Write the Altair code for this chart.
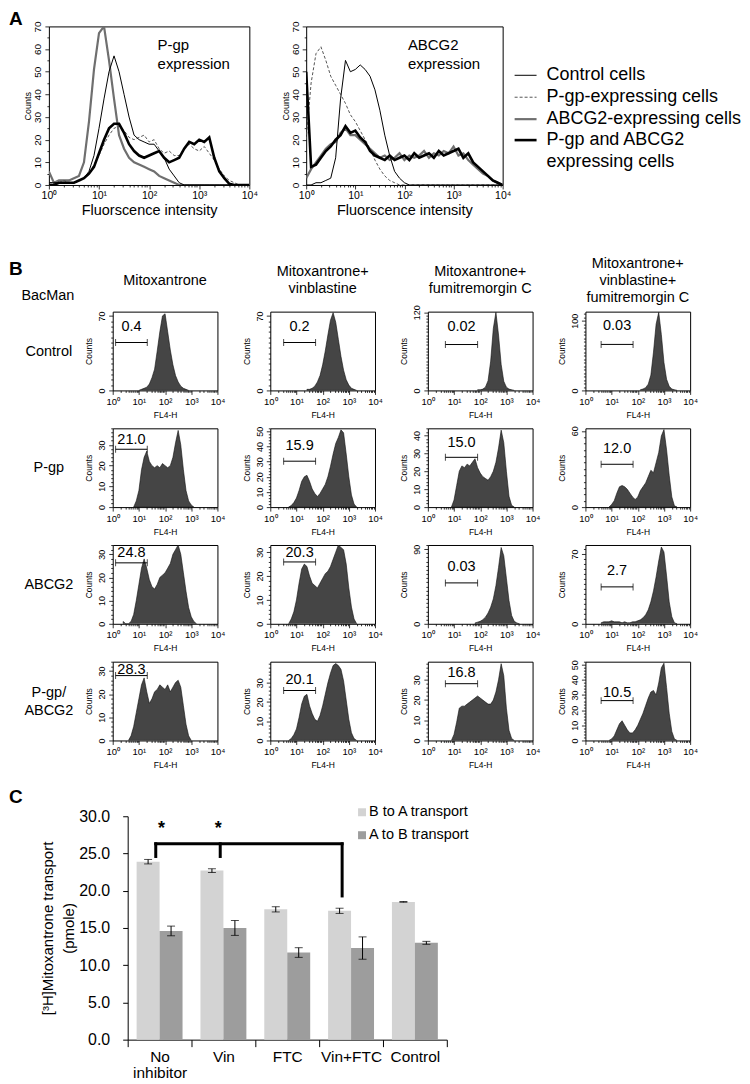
import math
import altair as alt
import pandas as pd

FONT = "Liberation Sans"

# ---------------- Panel A data (x = log10 fluorescence, step 0.1 decade) ----------------
A_LOGX = [round(i * 0.1, 1) for i in range(41)]
A_SERIES = ["Control cells", "P-gp-expressing cells", "ABCG2-expressing cells",
            "P-gp and ABCG2 expressing cells"]
A_LEGEND_LINES = [["Control cells"], ["P-gp-expressing cells"], ["ABCG2-expressing cells"],
                  ["P-gp and ABCG2", "expressing cells"]]

# left: P-gp expression
A_PGP_CONTROL = [1, 1, 1, 1, 1, 1, 2, 3, 6, 13,
                 25, 38, 50, 57, 50, 40, 30, 22, 20, 19,
                 18, 18, 15, 12, 7, 4, 1, 0, 0, 0,
                 0, 0, 0, 0, 0, 0, 0, 0, 0, 0,
                 0]
A_PGP_PGP = [1, 1, 1, 2, 1, 1, 2, 3, 5, 9,
             13, 18, 22, 25, 26, 24, 21, 20, 21, 22,
             19, 20, 16, 14, 15, 13, 13, 16, 18, 16,
             15, 17, 14, 11, 7, 4, 2, 1, 0, 0,
             0]
A_PGP_ABCG2 = [6, 1, 2, 2, 2, 3, 4, 10, 28, 51,
               67, 70, 55, 38, 22, 16, 12, 10, 9, 8,
               7, 6, 4, 3, 2, 1, 0, 0, 0, 0,
               0, 0, 0, 0, 0, 0, 0, 0, 0, 0,
               0]
A_PGP_BOTH = [0, 0, 1, 1, 1, 1, 2, 3, 5, 8,
              14, 20, 25, 27, 27, 23, 18, 15, 13, 12,
              13, 14, 15, 12, 10, 11, 12, 16, 19, 18,
              20, 19, 21, 12, 6, 3, 0.5, 0, 0, 0,
              0]
# right: ABCG2 expression
A_ABC_CONTROL = [0, 0, 1, 1, 2, 3, 12, 38, 55, 50,
                 51, 53, 51, 48, 42, 33, 22, 13, 6, 3,
                 1, 0, 0, 0, 0, 0, 0, 0, 0, 0,
                 0, 0, 0, 0, 0, 0, 0, 0, 0, 0,
                 0]
A_ABC_PGP = [20, 45, 58, 61, 55, 48, 44, 40, 36, 31,
             28, 24, 20, 16, 11, 7, 4, 2, 1, 0,
             0, 0, 0, 0, 0, 0, 0, 0, 0, 0,
             0, 0, 0, 0, 0, 0, 0, 0, 0, 0,
             0]
A_ABC_ABCG2 = [3, 7, 10, 13, 16, 18, 19, 23, 25, 22,
               22, 20, 18, 16, 14, 12, 13, 11, 12, 14,
               11, 13, 12, 13, 15, 12, 14, 13, 15, 14,
               17, 13, 14, 11, 9, 7, 5, 4, 2, 1,
               0]
A_ABC_BOTH = [50, 8, 9, 12, 15, 17, 20, 22, 26, 23,
              24, 21, 19, 15, 13, 12, 11, 13, 11, 12,
              13, 11, 14, 12, 13, 14, 12, 15, 13, 14,
              15, 16, 12, 14, 10, 8, 6, 4, 2, 1,
              0]

A_COLORS = ["#000000", "#555555", "#6f6f6f", "#000000"]
A_WIDTHS = [1.0, 1.0, 2.2, 2.6]
A_DASHES = [None, [3, 2], None, None]
A_DRAW_ORDER = [2, 1, 3, 0]

# ---------------- Panel B data ----------------
B_ROW_LABELS = [["Control"], ["P-gp"], ["ABCG2"], ["P-gp/", "ABCG2"]]
B_HEADERS = [["Mitoxantrone"], ["Mitoxantrone+", "vinblastine"],
             ["Mitoxantrone+", "fumitremorgin C"],
             ["Mitoxantrone+", "vinblastine+", "fumitremorgin C"]]
HIST_START = [[1.0, 1.4, 1.9, 2.1],
              [0.8, 0.7, 0.9, 0.9],
              [0.4, 0.7, 1.8, 0.6],
              [0.6, 0.7, 0.9, 0.9]]
HIST_VALS = [
    [[0, 1, 2, 3, 6, 12, 20, 37, 55, 70, 72, 55, 38, 24, 14, 8, 4, 2, 1, 0],
     [1, 1, 2, 4, 8, 14, 24, 37, 52, 66, 73, 64, 48, 32, 19, 10, 5, 2, 1, 0],
     [1, 1, 2, 5, 15, 45, 95, 120, 85, 40, 14, 5, 2, 1, 0],
     [1, 2, 4, 9, 22, 55, 95, 112, 80, 40, 16, 6, 2, 1, 0]],
    [[0, 3, 8, 18, 24, 27, 22, 20, 19, 20, 19, 21, 20, 19, 20, 24, 31, 37, 30, 18, 8, 3, 1, 0],
     [0, 1, 3, 6, 11, 17, 20, 21, 17, 12, 9, 7, 9, 12, 15, 20, 27, 35, 42, 46, 51, 49, 35, 20, 8, 2, 0],
     [0, 4, 12, 20, 23, 22, 24, 23, 25, 27, 22, 19, 17, 16, 15, 17, 20, 25, 33, 43, 36, 20, 6, 1, 0],
     [0, 2, 5, 11, 16, 17, 16, 14, 11, 8, 6, 8, 13, 16, 19, 24, 29, 27, 35, 43, 56, 61, 45, 25, 8, 1, 0]],
    [[1, 0, 0, 1, 4, 10, 17, 24, 28, 24, 19, 16, 15, 17, 20, 21, 22, 24, 26, 30, 32, 34, 30, 22, 14, 7, 3, 1, 0],
     [0, 2, 5, 10, 17, 23, 25, 24, 20, 17, 16, 15, 17, 19, 21, 22, 24, 27, 30, 33, 32, 31, 25, 15, 7, 2, 0],
     [1, 2, 3, 5, 8, 13, 20, 30, 46, 68, 92, 82, 55, 28, 10, 3, 1, 0],
     [1, 2, 2, 2, 3, 2, 2, 2, 1, 2, 1, 1, 2, 2, 3, 4, 6, 9, 14, 22, 33, 47, 63, 77, 72, 48, 22, 7, 1, 0]],
    [[0, 2, 6, 12, 18, 24, 27, 21, 16, 18, 21, 22, 24, 23, 22, 24, 21, 23, 25, 26, 23, 15, 7, 2, 0],
     [0, 1, 3, 6, 12, 19, 23, 24, 18, 14, 11, 10, 13, 18, 24, 30, 35, 39, 40, 39, 37, 31, 21, 11, 4, 1, 0],
     [0, 3, 9, 16, 17, 17, 18, 19, 20, 21, 22, 21, 20, 19, 18, 18, 20, 24, 30, 38, 32, 16, 5, 1, 0],
     [0, 1, 3, 7, 11, 13, 10, 7, 5, 5, 7, 10, 14, 18, 23, 28, 32, 33, 30, 38, 48, 51, 35, 18, 6, 1, 0]],
]
Y_MAX = [[74, 74, 121, 113], [38, 52, 44, 62], [34, 33, 95, 79], [34, 41, 39, 52]]
Y_MAJOR = [[[0, 70], [0, 70], [0, 120], [0, 100]],
           [[0, 10, 20, 30], [0, 10, 20, 30, 40, 50], [0, 10, 20, 30, 40], [0, 60]],
           [[0, 10, 20, 30], [0, 10, 20, 30], [0, 90], [0, 70]],
           [[0, 10, 20, 30], [0, 10, 20, 30], [0, 10, 20, 30], [0, 10, 20, 30, 40, 50]]]
GATE_TEXT = [["0.4", "0.2", "0.02", "0.03"], ["21.0", "15.9", "15.0", "12.0"],
             ["24.8", "20.3", "0.03", "2.7"], ["28.3", "20.1", "16.8", "10.5"]]
GATE_LO = [0.11, 0.51, 0.67, 0.60]
GATE_HI = [1.32, 1.73, 1.90, 1.82]
GATE_Y = [[45, 45, 70.5, 66], [27.9, 30.3, 27.8, 33.7], [26.3, 25.9, 49.3, 37], [28, 26, 28.1, 26.3]]
LABEL_Y = [[60, 60, 98, 92], [32.2, 40.2, 35.6, 45.5], [30.6, 29.7, 68.5, 53], [30.6, 31.7, 33.6, 31.6]]

# ---------------- Panel C data ----------------
C_CATS = ["No inhibitor", "Vin", "FTC", "Vin+FTC", "Control"]
C_SERIES = ["B to A transport", "A to B transport"]
C_BA = [23.9, 22.7, 17.5, 17.3, 18.5]
C_BA_ERR = [0.3, 0.25, 0.35, 0.35, 0.05]
C_AB = [14.6, 15.0, 11.7, 12.3, 13.0]
C_AB_ERR = [0.65, 1.0, 0.65, 1.5, 0.2]
C_COLORS = ["#d3d3d3", "#9d9d9d"]
BRACKET_X = [0.44, 1.45, 3.36]      # in category units (0..5)
BRACKET_LOW = [24.6, 24.6, 19.3]
BRACKET_TOP = 26.3
STAR_X = [0.53, 1.42]
STAR_Y = 28.3

# ---------------- helpers ----------------
MINOR = [k + math.log10(m) for k in range(4) for m in range(2, 10)]
X_TICKS = [0, 1, 2, 3, 4] + MINOR
SUP_EXPR = ("datum.value == floor(datum.value) ? '10' + "
            "['\u2070','\u00b9','\u00b2','\u00b3','\u2074'][datum.value] : ''")


def cond(test, major, minor):
    return {"condition": {"test": test, "value": major}, "value": minor}


def label(text, x, y, size=14.5, align="center", baseline="middle", weight="normal"):
    return alt.Chart(pd.DataFrame({"t": [text]})).mark_text(
        align=align, baseline=baseline, fontSize=size, fontWeight=weight,
        font=FONT, color="black").encode(x=alt.value(x), y=alt.value(y), text="t:N")


def anchor(x, y):
    # invisible point used only to fix the layout bounds of a block
    return alt.Chart(pd.DataFrame({"s": [0]})).mark_point(size=1, opacity=0).encode(
        x=alt.value(x), y=alt.value(y))


def spacer(w, h):
    return anchor(0, 0).properties(width=w, height=h)


FRAME = alt.ViewBackground(stroke="black", strokeWidth=1)


def log_x_axis(lsize, title, tsize, ty, major, minor, pad):
    return alt.Axis(values=X_TICKS, labelExpr=SUP_EXPR, labelFontSize=lsize, labelPadding=pad,
                    labelFlush=False, labelOverlap=False, labelBaseline="top",
                    tickSize=cond("datum.value == floor(datum.value)", major, minor),
                    tickWidth=0.8, domain=False, grid=False, title=title, titleFontSize=tsize,
                    titleY=ty, titleBaseline="middle", titleFontWeight="normal")


def count_y_axis(vals, majors, lsize, tsize, tx, major, minor, pad):
    ms = "[" + ",".join(str(m) for m in majors) + "]"
    test = "indexof(" + ms + ", datum.value) >= 0"
    return alt.Axis(values=vals, labelExpr=test + " ? datum.label : ''", labelAngle=270,
                    labelAlign="center", labelBaseline="bottom", labelFontSize=lsize,
                    labelPadding=pad, labelOverlap=False, labelFlush=False,
                    tickSize=cond(test, major, minor), tickWidth=0.8, domain=False, grid=False,
                    title="Counts", titleFontSize=tsize, titleX=tx, titleBaseline="middle",
                    titleFontWeight="normal")


# ---------------- Panel A ----------------
def panel_a(series_vals, tag, tag_x, width, extras):
    xsc = alt.Scale(domain=[0, 4], nice=False, zero=False)
    ysc = alt.Scale(domain=[0, 70], nice=False)
    xax = log_x_axis(10.5, "Fluorscence intensity", 14.5, 26, 4, 2, 2)
    yax = count_y_axis(list(range(0, 71, 5)), list(range(0, 71, 10)), 10, 9, -21, 4, 2, 2)
    layers = []
    for i in A_DRAW_ORDER:
        df = pd.DataFrame({"x": A_LOGX, "y": series_vals[i]})
        kw = dict(color=A_COLORS[i], strokeWidth=A_WIDTHS[i], clip=True)
        if A_DASHES[i]:
            kw["strokeDash"] = A_DASHES[i]
        layers.append(alt.Chart(df).mark_line(**kw).encode(
            x=alt.X("x:Q", scale=xsc, axis=xax), y=alt.Y("y:Q", scale=ysc, axis=yax)))
    layers.append(label(tag[0], tag_x, 19, 15, align="left"))
    layers.append(label(tag[1], tag_x, 38, 15, align="left"))
    layers += extras
    return alt.layer(*layers).properties(width=width, height=159, view=FRAME)


a_left = panel_a([A_PGP_CONTROL, A_PGP_PGP, A_PGP_ABCG2, A_PGP_BOTH], ["P-gp", "expression"], 109, 201,
                 [label("A", -40, -16, 19, align="left", baseline="top", weight="bold"),
                  anchor(0, 159 + 45)])

legend_layers = []
leg_y = [49, 71, 93, 114]
for i in range(4):
    kw = dict(color=A_COLORS[i], strokeWidth=A_WIDTHS[i])
    if A_DASHES[i]:
        kw["strokeDash"] = A_DASHES[i]
    legend_layers.append(alt.Chart(pd.DataFrame({"s": [A_SERIES[i]]})).mark_rule(**kw).encode(
        x=alt.value(209), x2=alt.value(231), y=alt.value(leg_y[i])))
    for j, line in enumerate(A_LEGEND_LINES[i]):
        legend_layers.append(label(line, 241, leg_y[i] + 22 * j, 18, align="left"))

a_right = panel_a([A_ABC_CONTROL, A_ABC_PGP, A_ABC_ABCG2, A_ABC_BOTH], ["ABCG2", "expression"], 102, 197,
                  legend_layers)

block_a = alt.hconcat(spacer(40, 159), a_left, spacer(57, 159), a_right, spacing=0, bounds="flush")


# ---------------- Panel B ----------------
def hist_panel(r, c):
    start = HIST_START[r][c]
    vals = HIST_VALS[r][c]
    xs = [round(start + 0.1 * i, 2) for i in range(len(vals))]
    ymax = Y_MAX[r][c]
    step = 2 if ymax <= 60 else 5
    yvals = list(range(0, int(ymax) + 1, step))
    xsc = alt.Scale(domain=[0, 4], nice=False, zero=False)
    ysc = alt.Scale(domain=[0, ymax], nice=False)
    xax = log_x_axis(9.5, "FL4-H", 8.5, 24, 4, 2, 2)
    yax = count_y_axis(yvals, Y_MAJOR[r][c], 9, 8.5, -24, 4, 2, 2)
    X = lambda f: alt.X(f, scale=xsc, axis=xax)
    Y = lambda f: alt.Y(f, scale=ysc, axis=yax)
    area = alt.Chart(pd.DataFrame({"x": xs, "y": vals})).mark_area(
        fill="#454545", stroke="#111111", strokeWidth=0.6, clip=True).encode(x=X("x:Q"), y=Y("y:Q"))
    gdf = pd.DataFrame({"x1": [GATE_LO[c]], "x2": [GATE_HI[c]], "y": [GATE_Y[r][c]],
                        "ly": [LABEL_Y[r][c]], "xm": [(GATE_LO[c] + GATE_HI[c]) / 2],
                        "t": [GATE_TEXT[r][c]]})
    gate = alt.Chart(gdf).mark_rule(color="black", strokeWidth=1).encode(
        x=X("x1:Q"), x2="x2:Q", y=Y("y:Q"))
    caps = alt.Chart(gdf).transform_fold(["x1", "x2"], as_=["k", "xe"]).mark_tick(
        orient="vertical", size=7, thickness=1, color="black").encode(x=X("xe:Q"), y=Y("y:Q"))
    txt = alt.Chart(gdf).mark_text(fontSize=14.5, font=FONT, color="black").encode(
        x=X("xm:Q"), y=Y("ly:Q"), text="t:N")
    layers = [area, gate, caps, txt]
    if r == 0:
        hl = B_HEADERS[c]
        n = len(hl)
        for i, line in enumerate(hl):
            layers.append(label(line, 52.5, -31 + (i - (n - 1) / 2) * 17, 14.5))
    if c == 0:
        rl = B_ROW_LABELS[r]
        n = len(rl)
        for i, line in enumerate(rl):
            layers.append(label(line, -64, 40 + (i - (n - 1) / 2) * 18, 14.5))
        if r == 0:
            layers.append(label("BacMan", -65, -16, 14.5))
            layers.append(label("B", -104, -52, 19, align="left", baseline="top", weight="bold"))
            layers.append(anchor(0, -80))
        if r == 3:
            layers.append(anchor(0, 79 + 35))
    return alt.layer(*layers).properties(width=105, height=79, view=FRAME)


b_items = []
for r in range(4):
    b_items.append(spacer(51, 79))
    for c in range(4):
        b_items.append(hist_panel(r, c))
block_b = alt.concat(*b_items, columns=5, spacing={"row": 38, "column": 53}, bounds="flush")

# ---------------- Panel C ----------------
cdf = pd.DataFrame({
    "cat": C_CATS + C_CATS,
    "series": [C_SERIES[0]] * 5 + [C_SERIES[1]] * 5,
    "value": C_BA + C_AB,
    "err": C_BA_ERR + C_AB_ERR,
})
c_xax = alt.Axis(labelFontSize=15.5, tickBand="extent", tickSize=7, labelPadding=3, labelAngle=0,
                 labelExpr="datum.label == 'No inhibitor' ? ['No', 'inhibitor'] : datum.label",
                 labelLineHeight=16, labelBaseline="top", labelOverlap=False, domain=True,
                 domainColor="black", tickColor="black", grid=False, title=None)
c_yax = alt.Axis(values=[0, 5, 10, 15, 20, 25, 30], format=".1f", labelFontSize=16, labelPadding=13,
                 tickSize=5, grid=False, domain=True, domainColor="black", tickColor="black",
                 title=["[\u00b3H]Mitoxantrone transport", "(pmole)"], titleFontSize=15,
                 titleFontWeight="normal", titleLineHeight=21, titleX=-87, titleBaseline="top")
c_xsc = alt.Scale(domain=C_CATS, paddingInner=0, paddingOuter=0)
c_osc = alt.Scale(domain=C_SERIES, paddingInner=0, paddingOuter=0.39)
c_ysc = alt.Scale(domain=[0, 30], nice=False)
CX = alt.X("cat:N", sort=C_CATS, scale=c_xsc, axis=c_xax)
CXO = alt.XOffset("series:N", sort=C_SERIES, scale=c_osc)

bars = alt.Chart(cdf).mark_bar().encode(
    x=CX, xOffset=CXO, y=alt.Y("value:Q", scale=c_ysc, axis=c_yax),
    color=alt.Color("series:N", scale=alt.Scale(domain=C_SERIES, range=C_COLORS), legend=None))
errs = alt.Chart(cdf).transform_calculate(
    lo="datum.value - datum.err", hi="datum.value + datum.err").mark_rule(
    color="black", strokeWidth=1).encode(
    x=CX, xOffset=CXO, y=alt.Y("lo:Q", scale=c_ysc, axis=c_yax), y2="hi:Q")
capsc = alt.Chart(cdf).transform_calculate(
    lo="datum.value - datum.err", hi="datum.value + datum.err").transform_fold(
    ["lo", "hi"], as_=["k", "v"]).mark_tick(orient="horizontal", size=8, thickness=1, color="black").encode(
    x=CX, xOffset=CXO, y=alt.Y("v:Q", scale=c_ysc, axis=c_yax))
band_layer = alt.layer(bars, errs, capsc)

qx = alt.Scale(domain=[0, 5], nice=False, zero=False)
vdf = pd.DataFrame({"x": BRACKET_X, "lo": BRACKET_LOW, "hi": [BRACKET_TOP] * 3})
vert = alt.Chart(vdf).mark_rule(color="black", strokeWidth=3, strokeCap="square").encode(
    x=alt.X("x:Q", scale=qx, axis=None), y=alt.Y("lo:Q", scale=c_ysc, axis=c_yax), y2="hi:Q")
hdf = pd.DataFrame({"x1": [BRACKET_X[0]], "x2": [BRACKET_X[-1]], "y": [BRACKET_TOP]})
horiz = alt.Chart(hdf).mark_rule(color="black", strokeWidth=3, strokeCap="square").encode(
    x=alt.X("x1:Q", scale=qx, axis=None), x2="x2:Q", y=alt.Y("y:Q", scale=c_ysc, axis=c_yax))
sdf = pd.DataFrame({"x": STAR_X, "y": [STAR_Y] * 2, "t": ["*", "*"]})
stars = alt.Chart(sdf).mark_text(fontSize=18, fontWeight="bold", color="black", baseline="middle").encode(
    x=alt.X("x:Q", scale=qx, axis=None), y=alt.Y("y:Q", scale=c_ysc, axis=c_yax), text="t:N")
c_leg = []
for i, s in enumerate(C_SERIES):
    c_leg.append(alt.Chart(pd.DataFrame({"s": [s]})).mark_square(size=64, color=C_COLORS[i], opacity=1).encode(
        x=alt.value(235), y=alt.value(-4 + 23 * i)))
    c_leg.append(label(s, 242, -4 + 23 * i, 14.5, align="left"))
annot_layer = alt.layer(vert, horiz, stars, *c_leg,
                        label("C", -119, -28, 19, align="left", baseline="top", weight="bold"),
                        anchor(0, -39))

panel_c = alt.layer(band_layer, annot_layer).resolve_scale(x="independent").properties(width=320, height=224)
block_c = alt.hconcat(spacer(119, 224), panel_c, spacing=0, bounds="flush")

# ---------------- layout ----------------
chart = alt.vconcat(block_a, block_b, block_c, spacing=0).properties(padding=0)
chart = chart.configure(font=FONT).configure_view(stroke="transparent").configure_axis(
    labelColor="black", titleColor="black", tickColor="black", domainColor="black",
    labelFont=FONT, titleFont=FONT)

chart.save("out.html", embed_options={"renderer": "svg", "actions": False})
